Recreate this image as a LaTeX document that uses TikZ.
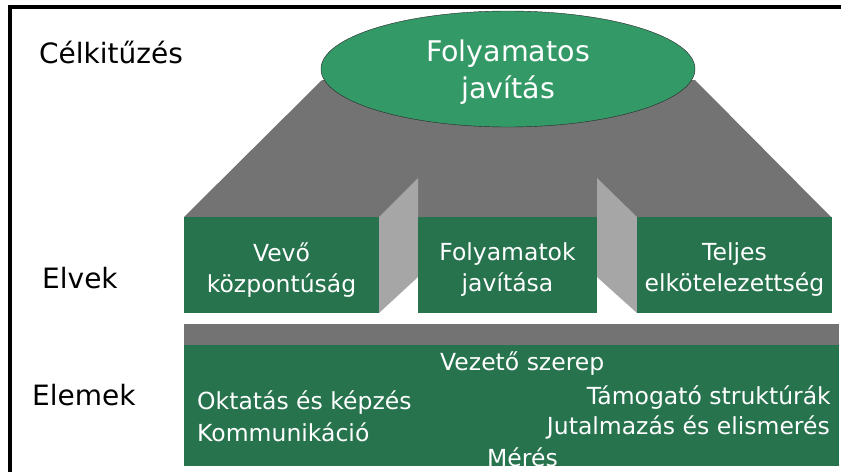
\documentclass[tikz,border=0pt]{standalone}
\usepackage{fontspec}
\setmainfont{DejaVu Sans}
\usetikzlibrary{shapes.geometric}
\definecolor{ovalgreen}{RGB}{51,153,102}
\definecolor{boxgreen}{RGB}{38,115,77}
\definecolor{roofgray}{RGB}{115,115,115}
\definecolor{sidegray}{RGB}{166,166,166}
\begin{document}
\begin{tikzpicture}[x=1pt,y=-1pt]

        % Styles
        \tikzstyle{level text}=[inner sep=0pt,anchor=base west,font=\fontsize{28}{32}\selectfont]
        \tikzstyle{pillar}=[fill=boxgreen,inner sep=0pt,minimum height=96pt]
        \tikzstyle{pillar text}=[text=white,inner sep=0pt,align=center,yshift=-5pt,font=\fontsize{23.5}{31}\selectfont]
        \tikzstyle{element}=[inner sep=0pt,text=white,font=\fontsize{23.5}{28}\selectfont]
        \tikzstyle{side}=[fill=sidegray]
        %The graphic
        \useasboundingbox (0,0) rectangle (841,472);
        %frame
        \draw[line width=3.2pt] (10,472) -- (10,7) -- (841,7);
        %roof
        \fill[roofgray] (322,80) -- (695,80) -- (831,217) -- (184,217) -- cycle;
        \node[ellipse,draw=black!85,fill=ovalgreen,minimum width=374pt,minimum height=116pt,inner sep=0pt] (goal) at (508,69) {};
        \node[text=white,align=center,font=\fontsize{28.5}{37}\selectfont,yshift=-3pt] (goaltext) at (goal) {Folyamatos\\javítás};
        %side walls
        \fill[style=side] (379,217) -- (418,178) -- (418,277) -- (379,313) -- cycle;
        \fill[style=side] (597,178) -- (637,217) -- (637,313) -- (597,277) -- cycle;
        %principles
        \node[pillar,minimum width=195pt] (vevo) at (281.5,265) {};
        \node[pillar,minimum width=179pt] (folyamat) at (507.5,265) {};
        \node[pillar,minimum width=195pt] (elkot) at (734.5,265) {};
        \node[pillar text] (vevotext) at (vevo) {Vevő\\központúság};
        \node[pillar text] (folyamattext) at (folyamat) {Folyamatok\\javítása};
        \node[pillar text] (elkottext) at (elkot) {Teljes\\elkötelezettség};
        %base
        \fill[roofgray] (184,324) rectangle (839,345);
        \node[fill=boxgreen,inner sep=0pt,minimum width=655pt,minimum height=121pt] (base) at (511.5,405.5) {};
        \node[element,anchor=base west] (vezeto) at (440,370) {Vezető szerep};
        \node[element,anchor=base west] (oktatas) at (197,409) {Oktatás és képzés};
        \node[element,anchor=base east] (tamogato) at (831,404) {Támogató struktúrák};
        \node[element,anchor=base west] (kommunikacio) at (197,441) {Kommunikáció};
        \node[element,anchor=base east] (jutalmazas) at (830,434) {Jutalmazás és elismerés};
        \node[element,anchor=base west] (meres) at (487,466) {Mérés};
        %levels
        \node[level text] (celkituzes) at (39,63) {Célkitűzés};
        \node[level text] (elvek) at (42,288) {Elvek};
        \node[level text] (elemek) at (32,405) {Elemek};
\end{tikzpicture}
\end{document}
